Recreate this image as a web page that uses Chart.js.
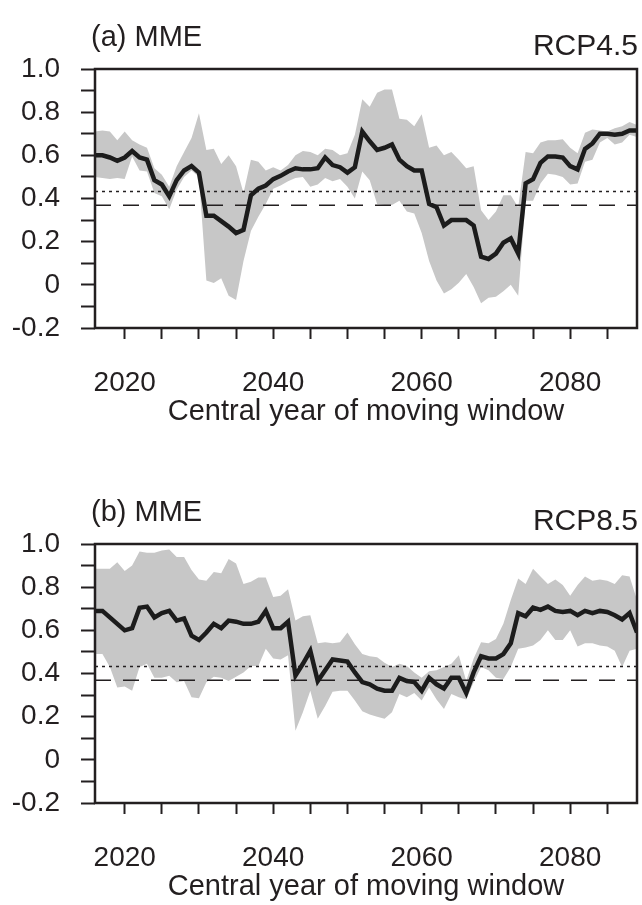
<!DOCTYPE html>
<html>
<head>
<meta charset="utf-8">
<title>MME moving-window correlation, RCP4.5 and RCP8.5</title>
<script src="https://cdn.jsdelivr.net/npm/chart.js@4.4.1/dist/chart.umd.min.js"></script>
<style>
  html, body { margin: 0; padding: 0; background: #fff; }
  body {
    width: 642px; height: 905px; position: relative; overflow: hidden;
    font-family: "Liberation Sans", Arial, Helvetica, sans-serif; color: #231f20;
  }
  .panel { position: absolute; left: 0; width: 642px; height: 430px; }
  .panel canvas { display: block; }
  .tag { position: absolute; line-height: 1; white-space: nowrap; }
  .tag.name { left: 91px; top: 22px; font-size: 29px; }
  .tag.rcp { right: 4px; top: 30px; font-size: 30px; }
</style>
</head>
<body>

<div class="panel" style="top:0">
  <canvas id="chartA" width="642" height="430"></canvas>
  <div class="tag name">(a) MME</div>
  <div class="tag rcp">RCP4.5</div>
</div>

<div class="panel" style="top:475px">
  <canvas id="chartB" width="642" height="430"></canvas>
  <div class="tag name">(b) MME</div>
  <div class="tag rcp">RCP8.5</div>
</div>

<script>
// central year of the moving window
var years = [
  2016, 2017, 2018, 2019, 2020, 2021, 2022, 2023, 2024, 2025,
  2026, 2027, 2028, 2029, 2030, 2031, 2032, 2033, 2034, 2035,
  2036, 2037, 2038, 2039, 2040, 2041, 2042, 2043, 2044, 2045,
  2046, 2047, 2048, 2049, 2050, 2051, 2052, 2053, 2054, 2055,
  2056, 2057, 2058, 2059, 2060, 2061, 2062, 2063, 2064, 2065,
  2066, 2067, 2068, 2069, 2070, 2071, 2072, 2073, 2074, 2075,
  2076, 2077, 2078, 2079, 2080, 2081, 2082, 2083, 2084, 2085,
  2086, 2087, 2088, 2089
];

// (a) RCP4.5 : MME line and model spread
var mmeA = [
  0.60, 0.60, 0.59, 0.575, 0.59, 0.62, 0.59, 0.58, 0.485, 0.465,
  0.41, 0.485, 0.53, 0.55, 0.52, 0.32, 0.32, 0.295, 0.27, 0.24,
  0.255, 0.415, 0.445, 0.46, 0.49, 0.505, 0.525, 0.54, 0.535, 0.535,
  0.54, 0.59, 0.555, 0.545, 0.52, 0.545, 0.71, 0.665, 0.625, 0.635,
  0.65, 0.58, 0.55, 0.53, 0.53, 0.375, 0.36, 0.275, 0.30, 0.30,
  0.30, 0.275, 0.13, 0.12, 0.145, 0.195, 0.215, 0.145, 0.47, 0.49,
  0.565, 0.595, 0.595, 0.59, 0.55, 0.535, 0.63, 0.655, 0.70, 0.70,
  0.695, 0.70, 0.715, 0.715
];
var upperA = [
  0.71, 0.715, 0.71, 0.67, 0.71, 0.67, 0.65, 0.635, 0.54, 0.51,
  0.455, 0.55, 0.615, 0.68, 0.795, 0.625, 0.63, 0.56, 0.60, 0.55,
  0.425, 0.58, 0.57, 0.53, 0.545, 0.53, 0.555, 0.60, 0.62, 0.615,
  0.60, 0.63, 0.625, 0.60, 0.61, 0.695, 0.86, 0.825, 0.89, 0.905,
  0.905, 0.77, 0.765, 0.735, 0.79, 0.635, 0.645, 0.60, 0.615, 0.58,
  0.54, 0.55, 0.345, 0.30, 0.34, 0.415, 0.415, 0.36, 0.615, 0.61,
  0.66, 0.67, 0.67, 0.675, 0.635, 0.61, 0.705, 0.72, 0.715, 0.71,
  0.725, 0.735, 0.755, 0.74
];
var lowerA = [
  0.50, 0.495, 0.49, 0.495, 0.49, 0.595, 0.53, 0.525, 0.425, 0.41,
  0.35, 0.44, 0.50, 0.53, 0.50, 0.02, 0.008, 0.03, -0.05, -0.07,
  0.11, 0.25, 0.315, 0.375, 0.445, 0.46, 0.48, 0.495, 0.50, 0.455,
  0.465, 0.495, 0.48, 0.49, 0.455, 0.40, 0.525, 0.485, 0.375, 0.37,
  0.37, 0.39, 0.34, 0.33, 0.24, 0.11, 0.02, -0.04, -0.02, 0.01,
  0.05, -0.01, -0.085, -0.06, -0.055, -0.03, 0.0, -0.05, 0.39, 0.39,
  0.47, 0.515, 0.51, 0.50, 0.465, 0.47, 0.57, 0.58, 0.66, 0.68,
  0.65, 0.66, 0.695, 0.685
];

// (b) RCP8.5 : MME line and model spread
var mmeB = [
  0.69, 0.69, 0.66, 0.63, 0.60, 0.61, 0.705, 0.71, 0.66, 0.68,
  0.69, 0.645, 0.655, 0.575, 0.555, 0.59, 0.63, 0.61, 0.645, 0.64,
  0.63, 0.63, 0.64, 0.69, 0.61, 0.61, 0.64, 0.39, 0.445, 0.505,
  0.365, 0.415, 0.465, 0.46, 0.455, 0.405, 0.36, 0.35, 0.33, 0.32,
  0.32, 0.38, 0.365, 0.36, 0.32, 0.38, 0.35, 0.33, 0.38, 0.38,
  0.31, 0.405, 0.48, 0.47, 0.47, 0.49, 0.54, 0.68, 0.665, 0.705,
  0.695, 0.71, 0.69, 0.685, 0.69, 0.67, 0.69, 0.68, 0.69, 0.685,
  0.67, 0.65, 0.68, 0.59
];
var upperB = [
  0.885, 0.885, 0.885, 0.915, 0.875, 0.90, 0.965, 0.96, 0.96, 0.97,
  0.975, 0.94, 0.94, 0.88, 0.835, 0.83, 0.87, 0.865, 0.93, 0.91,
  0.815, 0.825, 0.845, 0.845, 0.755, 0.76, 0.79, 0.645, 0.665, 0.67,
  0.54, 0.545, 0.54, 0.545, 0.59, 0.535, 0.49, 0.48, 0.475, 0.45,
  0.43, 0.445, 0.435, 0.405, 0.38, 0.41, 0.415, 0.43, 0.445, 0.485,
  0.365, 0.47, 0.545, 0.54, 0.56, 0.63, 0.74, 0.84, 0.815, 0.885,
  0.85, 0.815, 0.835, 0.81, 0.76, 0.81, 0.85, 0.83, 0.835, 0.83,
  0.815, 0.855, 0.85, 0.74
];
var lowerB = [
  0.49, 0.49, 0.43, 0.335, 0.34, 0.32, 0.43, 0.445, 0.38, 0.38,
  0.39, 0.36, 0.365, 0.29, 0.285, 0.36, 0.385, 0.38, 0.365, 0.385,
  0.405, 0.435, 0.435, 0.515, 0.47, 0.465, 0.485, 0.135, 0.22, 0.32,
  0.19, 0.25, 0.315, 0.32, 0.32, 0.275, 0.225, 0.21, 0.20, 0.19,
  0.22, 0.305, 0.29, 0.31, 0.275, 0.335, 0.28, 0.235, 0.305, 0.29,
  0.28, 0.36, 0.43, 0.415, 0.38, 0.375, 0.43, 0.515, 0.52, 0.53,
  0.555, 0.60, 0.555, 0.555, 0.60, 0.525, 0.54, 0.54, 0.53, 0.525,
  0.505, 0.43, 0.505, 0.515
];

// significance levels of the correlation (dotted / dashed)
var r95 = 0.433;
var r90 = 0.369;

// axis range and labelled ticks
var xRange = [2016, 2089];
var yRange = [-0.2, 1.0];
var xTickYears = [2020, 2040, 2060, 2080];
var yTickValues = [-0.2, 0, 0.2, 0.4, 0.6, 0.8, 1.0];

(function () {
  "use strict";

  var colors = {
    ink: "#231f20",
    line: "#1c1c1c",
    band: "#c7c7c7",
  };
  var font = '"Liberation Sans", Arial, Helvetica, sans-serif';

  Chart.defaults.font.family = font;
  Chart.defaults.color = colors.ink;

  function toPoints(values) {
    return years.map(function (yr, i) {
      return { x: yr, y: values[i] };
    });
  }

  function flat(level) {
    return [{ x: xRange[0], y: level }, { x: xRange[1], y: level }];
  }

  // box round the plot area, like the original figure
  var framePlugin = {
    id: "frame",
    afterDatasetsDraw: function (chart) {
      var a = chart.chartArea;
      var ctx = chart.ctx;
      ctx.save();
      ctx.strokeStyle = colors.ink;
      ctx.lineWidth = 2.5;
      ctx.strokeRect(a.left, a.top, a.right - a.left, a.bottom - a.top);
      ctx.restore();
    },
  };

  function makeChart(id, mme, upper, lower) {
    var el = document.getElementById(id);
    if (!el || typeof Chart === "undefined") return;

    new Chart(el, {
      type: "line",
      data: {
        datasets: [
          {
            label: "MME",
            data: toPoints(mme),
            borderColor: colors.line,
            borderWidth: 4.5,
            pointRadius: 0,
            tension: 0,
            fill: false,
            order: 0,
          },
          {
            label: "r95",
            data: flat(r95),
            borderColor: colors.ink,
            borderWidth: 1.5,
            borderDash: [3, 4],
            pointRadius: 0,
            fill: false,
            order: 1,
          },
          {
            label: "r90",
            data: flat(r90),
            borderColor: colors.ink,
            borderWidth: 1.5,
            borderDash: [16, 12],
            pointRadius: 0,
            fill: false,
            order: 1,
          },
          {
            label: "upper",
            data: toPoints(upper),
            borderWidth: 0,
            borderColor: colors.band,
            backgroundColor: colors.band,
            pointRadius: 0,
            tension: 0,
            fill: "+1",
            order: 2,
          },
          {
            label: "lower",
            data: toPoints(lower),
            borderWidth: 0,
            borderColor: colors.band,
            pointRadius: 0,
            tension: 0,
            fill: false,
            order: 3,
          },
        ],
      },
      options: {
        responsive: false,
        animation: false,
        devicePixelRatio: 1,
        layout: { padding: { top: 69, right: 5, left: 0, bottom: 0 } },
        plugins: {
          legend: { display: false },
          tooltip: { enabled: false },
        },
        scales: {
          x: {
            type: "linear",
            min: xRange[0],
            max: xRange[1],
            border: { display: false },
            grid: {
              drawOnChartArea: false,
              tickLength: 11,
              tickWidth: 2,
              tickColor: colors.ink,
            },
            ticks: {
              stepSize: 5,
              includeBounds: false,
              autoSkip: false,
              maxRotation: 0,
              padding: 27,
              font: { size: 28 },
              color: colors.ink,
              callback: function (v) {
                return xTickYears.indexOf(v) >= 0 ? String(v) : "";
              },
            },
            title: {
              display: true,
              text: "Central year of moving window",
              font: { size: 29 },
              color: colors.ink,
              padding: { top: 0, bottom: 1 },
            },
            afterFit: function (scale) {
              scale.height = 102;
            },
          },
          y: {
            min: yRange[0],
            max: yRange[1],
            border: { display: false },
            grid: {
              drawOnChartArea: false,
              tickLength: 14,
              tickWidth: 2,
              tickColor: colors.ink,
            },
            ticks: {
              stepSize: 0.1,
              autoSkip: false,
              padding: 21,
              font: { size: 28 },
              color: colors.ink,
              callback: function (v) {
                var k = Math.round(v * 10);
                var hit = yTickValues.some(function (t) {
                  return Math.round(t * 10) === k;
                });
                if (!hit) return "";
                return k === 0 ? "0" : (k / 10).toFixed(1);
              },
            },
            afterFit: function (scale) {
              scale.width = 95;
            },
          },
        },
      },
      plugins: [framePlugin],
    });
  }

  makeChart("chartA", mmeA, upperA, lowerA);
  makeChart("chartB", mmeB, upperB, lowerB);
})();
</script>
</body>
</html>
